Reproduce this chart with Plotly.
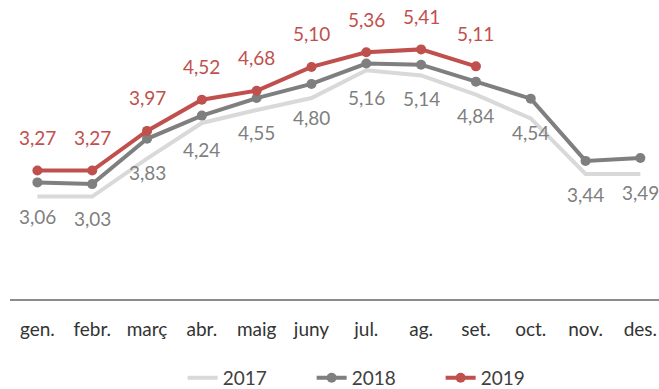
import plotly.graph_objects as go

months = ["gen.", "febr.", "març", "abr.", "maig", "juny", "jul.", "ag.", "set.", "oct.", "nov.", "des."]
v2017 = [2.81, 2.81, 3.48, 4.11, 4.34, 4.55, 5.04, 4.95, 4.61, 4.19, 3.21, 3.21]
v2018 = [3.06, 3.03, 3.83, 4.24, 4.55, 4.80, 5.16, 5.14, 4.84, 4.54, 3.44, 3.49]
v2019 = [3.27, 3.27, 3.97, 4.52, 4.68, 5.10, 5.36, 5.41, 5.11]

C17 = "#d9d9d9"
C18 = "#7f7f7f"
C19 = "#c0504d"
FONT = "Lato"


def fmt(v):
    return f"{v:.2f}".replace(".", ",")


fig = go.Figure()
fig.add_trace(go.Scatter(x=months, y=v2017, name="2017", mode="lines",
                         line=dict(color=C17, width=4)))
fig.add_trace(go.Scatter(x=months, y=v2018, name="2018", mode="lines+markers",
                         line=dict(color=C18, width=4),
                         marker=dict(color=C18, size=10)))
fig.add_trace(go.Scatter(x=months[:len(v2019)], y=v2019, name="2019", mode="lines+markers",
                         line=dict(color=C19, width=4),
                         marker=dict(color=C19, size=10)))

# value labels: 2019 above its points, 2018 below
annotations = []
for m, v in zip(months, v2019):
    annotations.append(dict(x=m, y=v, text=fmt(v), showarrow=False, yshift=33,
                            font=dict(family=FONT, size=19, color=C19)))
for m, v in zip(months, v2018):
    annotations.append(dict(x=m, y=v, text=fmt(v), showarrow=False, yshift=-34,
                            font=dict(family=FONT, size=19, color=C18)))

fig.update_layout(
    width=659, height=389,
    margin=dict(l=10, r=0, t=16, b=90, autoexpand=False),
    paper_bgcolor="white", plot_bgcolor="white",
    font=dict(family=FONT, size=19, color="#404040"),
    showlegend=True,
    legend=dict(orientation="h", x=0.266, xanchor="left", y=-0.279, yanchor="middle",
                font=dict(family=FONT, size=19, color="#404040"),
                entrywidth=84, entrywidthmode="pixels", tracegroupgap=0),
    annotations=annotations,
)
fig.update_xaxes(range=[-0.5, 11.34], showline=True, linecolor="#8c8c8c", linewidth=2,
                 showgrid=False, zeroline=False, ticks="", ticklabelstandoff=12,
                 tickfont=dict(family=FONT, size=19, color="#333333"))
fig.update_yaxes(range=[1, 6], visible=False, showgrid=False, zeroline=False)

fig.write_html("out.html")
